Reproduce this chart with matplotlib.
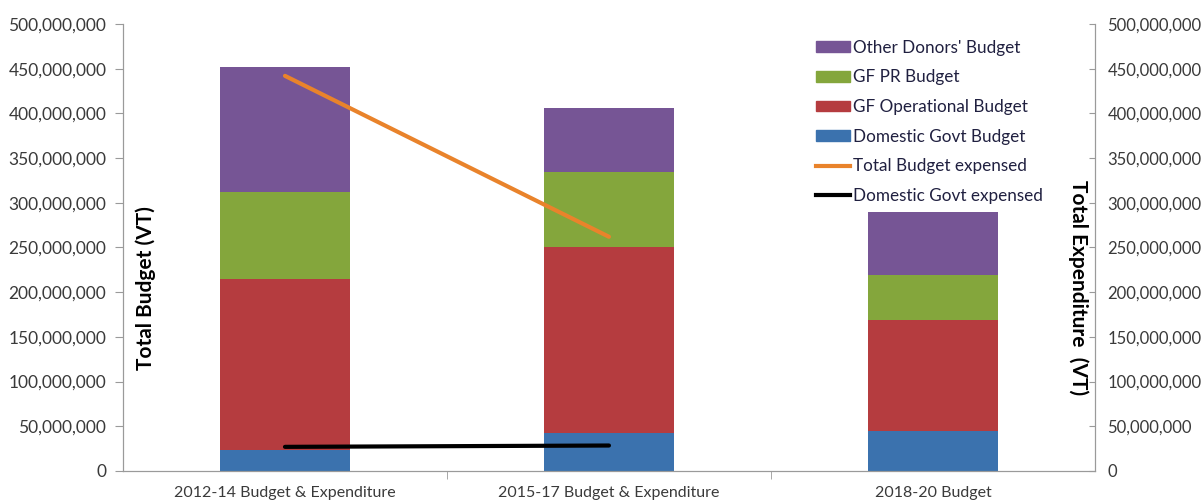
import matplotlib
matplotlib.use("Agg")
import matplotlib.pyplot as plt
from matplotlib.ticker import FuncFormatter
from matplotlib.patches import Patch
from matplotlib.lines import Line2D

categories = ["2012-14 Budget & Expenditure", "2015-17 Budget & Expenditure", "2018-20 Budget"]
domestic_govt_budget = [24_000_000, 42_000_000, 45_000_000]
gf_operational_budget = [191_000_000, 209_000_000, 124_000_000]
gf_pr_budget = [97_000_000, 83_000_000, 50_000_000]
other_donors_budget = [140_000_000, 72_000_000, 71_000_000]
total_budget_expensed = [442_000_000, 262_000_000]
domestic_govt_expensed = [27_000_000, 28_500_000]

plt.rcParams['font.family'] = ['Lato', 'DejaVu Sans']

c_blue = "#3b72ae"
c_red = "#b53c3f"
c_green = "#84a63c"
c_purple = "#765595"
c_orange = "#e9832b"
gray = "#9a9a9a"
txt = "#3a3a3a"

fig = plt.figure(figsize=(12.01, 5.01), dpi=100)
ax = fig.add_axes([0.1024, 0.0599, 0.8093, 0.8922])
x = list(range(len(categories)))
w = 0.4
b1 = domestic_govt_budget
b2 = [a + b for a, b in zip(b1, gf_operational_budget)]
b3 = [a + b for a, b in zip(b2, gf_pr_budget)]
ax.bar(x, domestic_govt_budget, w, color=c_blue)
ax.bar(x, gf_operational_budget, w, bottom=b1, color=c_red)
ax.bar(x, gf_pr_budget, w, bottom=b2, color=c_green)
ax.bar(x, other_donors_budget, w, bottom=b3, color=c_purple)

ax.set_xlim(-0.5, 2.5)
ax.set_ylim(0, 500_000_000)
ax.set_yticks(range(0, 500_000_001, 50_000_000))
fmt = FuncFormatter(lambda v, p: f"{int(v):,}")
ax.yaxis.set_major_formatter(fmt)
ax.set_xticks(x)
ax.set_xticklabels(categories)
ax.set_xticks([0.5, 1.5], minor=True)
ax.tick_params(axis='x', which='major', length=0, pad=11, labelsize=11.5, labelcolor=txt)
ax.tick_params(axis='x', which='minor', length=6, color=gray, direction='out')
ax.tick_params(axis='y', length=6, color=gray, labelsize=12.5, labelcolor=txt, pad=6)
for s in ['top']:
    ax.spines[s].set_visible(False)
for s in ['left', 'bottom', 'right']:
    ax.spines[s].set_color(gray)
ax.set_ylabel("Total Budget (VT)", fontsize=15, fontweight='bold', color='black')
ax.yaxis.set_label_coords(0.034, 0.41)

ax2 = ax.twinx()
ax2.set_ylim(0, 500_000_000)
ax2.set_yticks(range(0, 500_000_001, 50_000_000))
ax2.yaxis.set_major_formatter(fmt)
ax2.tick_params(axis='y', length=4, color=gray, direction='in', labelsize=12, labelcolor=txt, pad=9)
ax2.spines['top'].set_visible(False)
for s in ['left', 'bottom', 'right']:
    ax2.spines[s].set_color(gray)
ax2.plot(x[:2], total_budget_expensed, color=c_orange, lw=3, solid_capstyle='round')
ax2.plot(x[:2], domestic_govt_expensed, color='black', lw=3, solid_capstyle='round')
ax2.set_ylabel("Total Expenditure  (VT)", fontsize=15, fontweight='bold', color='black', rotation=-90,
               va='center')
ax2.yaxis.set_label_coords(0.9825, 0.41)

handles = [Patch(color=c_purple), Patch(color=c_green), Patch(color=c_red), Patch(color=c_blue),
           Line2D([], [], color=c_orange, lw=3), Line2D([], [], color='black', lw=3)]
labels = ["Other Donors' Budget", "GF PR Budget", "GF Operational Budget", "Domestic Govt Budget",
          "Total Budget expensed", "Domestic Govt expensed"]
leg = ax2.legend(handles, labels, loc='upper left', bbox_to_anchor=(0.713, 0.965), frameon=False,
                 fontsize=12.3, handlelength=2.0, handleheight=0.6, handletextpad=0.15,
                 labelspacing=0.8, borderaxespad=0, borderpad=0)
for t in leg.get_texts():
    t.set_color('#202040')

fig.savefig("out.png", dpi=100)
